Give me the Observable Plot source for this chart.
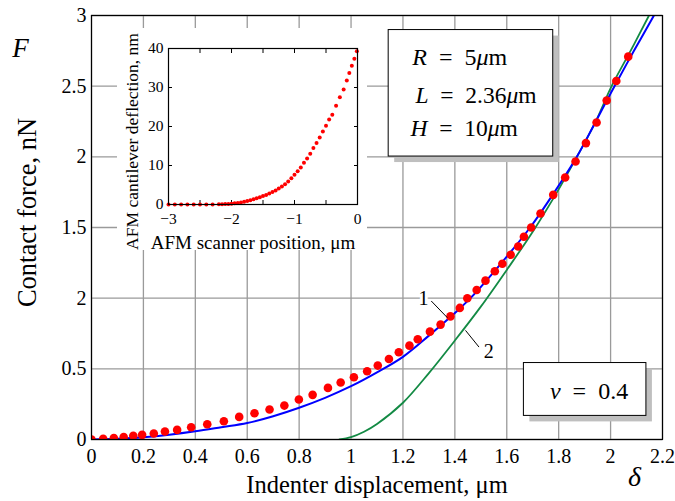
<!DOCTYPE html>
<html>
<head>
<meta charset="utf-8">
<script src="https://cdn.jsdelivr.net/npm/d3@7"></script>
<script src="https://cdn.jsdelivr.net/npm/@observablehq/plot@0.6"></script>
<style>
  html, body { margin: 0; padding: 0; background: white; }
  #wrap { position: relative; width: 675px; height: 501px; }
  #inset { position: absolute; left: 117px; top: 28px; }
  #inset svg { overflow: visible; }
</style>
</head>
<body>
<div id="wrap"><div id="main"></div><div id="inset"></div></div>
<script>
// ---------- Main chart data ----------
const xTicks = [0, 0.2, 0.4, 0.6, 0.8, 1, 1.2, 1.4, 1.6, 1.8, 2, 2.2];
const xTickLabels = ["0", "0.2", "0.4", "0.6", "0.8", "1", "1.2", "1.4", "1.6", "1.8", "2", "2.2"];
const yTicks = [0, 0.5, 1, 1.5, 2, 2.5, 3];
const yTickLabels = ["0", "0.5", "2", "1.5", "2", "2.5", "3"];

// Experimental points (red)
const expX = [0, 0.045, 0.086, 0.124, 0.161, 0.195, 0.240, 0.283, 0.330, 0.384, 0.446, 0.510, 0.569, 0.628, 0.686, 0.743, 0.799, 0.852, 0.911, 0.960, 1.011, 1.062, 1.103, 1.146, 1.184, 1.225, 1.257, 1.304, 1.345, 1.383, 1.419, 1.448, 1.484, 1.518, 1.554, 1.583, 1.615, 1.644, 1.666, 1.694, 1.730, 1.779, 1.825, 1.865, 1.905, 1.946, 1.985, 2.022, 2.068];
const expF = [0, 0.005, 0.010, 0.017, 0.026, 0.033, 0.042, 0.057, 0.068, 0.087, 0.108, 0.129, 0.160, 0.186, 0.212, 0.240, 0.283, 0.316, 0.365, 0.403, 0.440, 0.483, 0.523, 0.570, 0.617, 0.664, 0.709, 0.763, 0.813, 0.871, 0.931, 0.999, 1.058, 1.124, 1.190, 1.244, 1.307, 1.366, 1.435, 1.500, 1.599, 1.731, 1.854, 1.967, 2.097, 2.243, 2.398, 2.537, 2.709];

// Model 1 (blue)
const model1X = [0, 0.1, 0.2, 0.3, 0.4, 0.5, 0.6, 0.7, 0.8, 0.9, 1.0, 1.1, 1.2, 1.3, 1.4, 1.46, 1.58, 1.69, 1.78, 1.87, 1.94, 2.015, 2.09, 2.167, 2.2];
const model1F = [0, 0.005, 0.016, 0.034, 0.058, 0.087, 0.117, 0.165, 0.225, 0.295, 0.377, 0.475, 0.585, 0.735, 0.895, 1.0, 1.25, 1.5, 1.74, 2.0, 2.24, 2.5, 2.75, 3.0, 3.11];

// Model 2 (green)
const model2X = [0.955, 1.0, 1.05, 1.1, 1.2, 1.3, 1.4, 1.5, 1.6, 1.7, 1.8, 1.87, 1.94, 2.004, 2.08, 2.148, 2.2];
const model2F = [0, 0.017, 0.055, 0.11, 0.26, 0.47, 0.70, 0.94, 1.20, 1.47, 1.77, 2.0, 2.24, 2.5, 2.76, 3.0, 3.19];

// ---------- Inset data ----------
const insetXTicks = [-3, -2, -1, 0];
const insetXLabels = ["\u22123", "\u22122", "\u22121", "0"];
const insetXMinor = [-2.5, -2, -1.5, -1, -0.5];
const insetYTicks = [0, 10, 20, 30, 40];
const insetYMinor = [10, 20, 30];
const afmX = [-3.0, -2.9, -2.8, -2.7, -2.6, -2.5, -2.4, -2.3, -2.2, -2.15, -2.1, -2.05, -2.0, -1.95, -1.9, -1.85, -1.8, -1.75, -1.7, -1.65, -1.6, -1.55, -1.5, -1.45, -1.4, -1.35, -1.3, -1.25, -1.2, -1.15, -1.1, -1.05, -1.0, -0.95, -0.9, -0.85, -0.8, -0.75, -0.7, -0.65, -0.6, -0.55, -0.5, -0.45, -0.4, -0.34, -0.28, -0.22, -0.17, -0.13, -0.09, -0.05, -0.01];
const afmD = [0, 0, 0, 0, 0, 0, 0, 0, 0.05, 0.08, 0.1, 0.15, 0.2, 0.3, 0.4, 0.5, 0.7, 0.9, 1.1, 1.35, 1.6, 1.85, 2.15, 2.45, 2.8, 3.2, 3.6, 4.1, 4.6, 5.2, 5.9, 6.7, 7.6, 8.5, 9.5, 10.7, 11.8, 13.0, 14.5, 15.8, 17.2, 18.7, 20.2, 21.8, 23.0, 25.3, 27.5, 29.5, 31.8, 33.7, 35.6, 37.4, 39.3];

// ---------- Build tables ----------
const expData = expX.map((x, i) => ({x, y: expF[i]}));
const m1Data = model1X.map((x, i) => ({x, y: model1F[i]}));
const m2Data = model2X.map((x, i) => ({x, y: model2F[i]}));
const afmData = afmX.map((x, i) => ({x, y: afmD[i]}));

const FONT = "Liberation Serif, Times New Roman, serif";

const main = Plot.plot({
  width: 675,
  height: 501,
  marginLeft: 91,
  marginRight: 13,
  marginTop: 15,
  marginBottom: 62,
  x: {domain: [0, 2.2]},
  y: {domain: [0, 3]},
  style: {fontFamily: FONT, fontSize: "20px", background: "white", color: "black"},
  marks: [
    Plot.gridX(xTicks, {stroke: "#9a9a9a", strokeOpacity: 1, strokeWidth: 1.3}),
    Plot.gridY(yTicks, {stroke: "#9a9a9a", strokeOpacity: 1, strokeWidth: 1.3}),
    Plot.axisX(xTicks, {tickSize: 0, tickPadding: 9, fontSize: 20, tickFormat: d => xTickLabels[xTicks.indexOf(d)], label: null}),
    Plot.axisY(yTicks, {tickSize: 0, tickPadding: 5, fontSize: 20, tickFormat: d => yTickLabels[yTicks.indexOf(d)], label: null}),
    Plot.line(m2Data, {x: "x", y: "y", stroke: "#138a44", strokeWidth: 1.8, curve: "catmull-rom", clip: true}),
    Plot.line(m1Data, {x: "x", y: "y", stroke: "#0000ff", strokeWidth: 2, curve: "catmull-rom", clip: true}),
    Plot.dot(expData, {x: "x", y: "y", r: 4.3, fill: "#ff0000", stroke: null, clip: true}),
    // leader lines and curve numbers
    Plot.link([0], {x1: 1.309, y1: 0.980, x2: 1.371, y2: 0.862, stroke: "black", strokeWidth: 1}),
    Plot.link([0], {x1: 1.441, y1: 0.772, x2: 1.493, y2: 0.654, stroke: "black", strokeWidth: 1}),
    Plot.text(["1"], {x: 1.279, y: 0.998, fontSize: 20, fill: "black", stroke: "white", strokeWidth: 6}),
    Plot.text(["2"], {x: 1.531, y: 0.619, fontSize: 20, fill: "black", stroke: "white", strokeWidth: 6}),
    // parameter box
    Plot.rect([0], {x1: 1.145, x2: 1.779, y1: 2.002, y2: 2.897, fill: "#bfbfbf", dx: 6, dy: 6}),
    Plot.rect([0], {x1: 1.145, x2: 1.779, y1: 2.002, y2: 2.897, fill: "white", stroke: "black", strokeWidth: 1}),
    Plot.text(["R\u2002=\u20025\u03bcm"], {x: 1.236, y: 2.704, textAnchor: "start", fontSize: 24}),
    Plot.text(["L\u2002=\u20022.36\u03bcm"], {x: 1.248, y: 2.433, textAnchor: "start", fontSize: 23.5}),
    Plot.text(["H\u2002=\u200210\u03bcm"], {x: 1.229, y: 2.198, textAnchor: "start", fontSize: 23.5}),
    // Poisson box
    Plot.rect([0], {x1: 1.666, x2: 2.138, y1: 0.167, y2: 0.541, fill: "#bfbfbf", dx: 6, dy: 6}),
    Plot.rect([0], {x1: 1.666, x2: 2.138, y1: 0.167, y2: 0.541, fill: "white", stroke: "black", strokeWidth: 1}),
    Plot.text(["\u03bd\u2002=\u20020.4"], {x: 1.917, y: 0.343, fontSize: 24}),
    // axis titles and symbols
    Plot.text(["Indenter displacement, \u03bcm"], {frameAnchor: "bottom", textAnchor: "middle", lineAnchor: "middle", dy: 46, fontSize: 24.5}),
    Plot.text(["Contact force, nN"], {frameAnchor: "left", textAnchor: "middle", lineAnchor: "middle", rotate: -90, dx: -64, dy: -15, fontSize: 26.5}),
    Plot.text(["F"], {frameAnchor: "top-left", textAnchor: "middle", lineAnchor: "middle", dx: -71, dy: 33, fontSize: 27, fontStyle: "italic"}),
    Plot.text(["\u03b4"], {frameAnchor: "bottom-right", textAnchor: "middle", lineAnchor: "middle", dx: -28, dy: 38, fontSize: 28, fontStyle: "italic"}),
    Plot.frame({stroke: "black", strokeWidth: 1.2})
  ]
});

// italicize math symbols inside parameter texts
d3.select(main).selectAll("text").each(function() {
  const t = this.textContent;
  if (!t.includes("=")) return;
  const el = d3.select(this);
  el.text("");
  for (const ch of t) {
    const s = el.append("tspan").text(ch);
    if (/[RLH\u03bc\u03bd]/.test(ch)) s.attr("font-style", "italic");
  }
});

document.getElementById("main").appendChild(main);

const inset = Plot.plot({
  width: 250,
  height: 222,
  marginLeft: 51,
  marginRight: 10,
  marginTop: 20,
  marginBottom: 46,
  x: {domain: [-3, 0]},
  y: {domain: [0, 40]},
  style: {fontFamily: FONT, fontSize: "15px", background: "white", color: "black"},
  marks: [
    Plot.axisX(insetXTicks, {tickSize: 0, tickPadding: 8, fontSize: 15.5, tickFormat: d => insetXLabels[insetXTicks.indexOf(d)], label: null}),
    Plot.axisY(insetYTicks, {tickSize: 0, tickPadding: 5, fontSize: 15.5, label: null}),
    Plot.axisX(insetXMinor, {anchor: "bottom", tickSize: -4, tickFormat: () => "", label: null}),
    Plot.axisX(insetXMinor, {anchor: "top", tickSize: -4, tickFormat: () => "", label: null}),
    Plot.axisY(insetYMinor, {anchor: "left", tickSize: -4, tickFormat: () => "", label: null}),
    Plot.axisY(insetYMinor, {anchor: "right", tickSize: -4, tickFormat: () => "", label: null}),
    Plot.dot(afmData, {x: "x", y: "y", r: 2, fill: "#ff0000", stroke: null}),
    Plot.text(["AFM scanner position, \u03bcm"], {frameAnchor: "bottom", textAnchor: "middle", lineAnchor: "middle", dy: 38, dx: -10, fontSize: 19}),
    Plot.text(["AFM cantilever deflection, nm"], {frameAnchor: "left", textAnchor: "middle", lineAnchor: "middle", rotate: -90, dx: -36, dy: 15, fontSize: 17.5}),
    Plot.frame({stroke: "black", strokeWidth: 1.2})
  ]
});
document.getElementById("inset").appendChild(inset);
</script>
</body>
</html>
